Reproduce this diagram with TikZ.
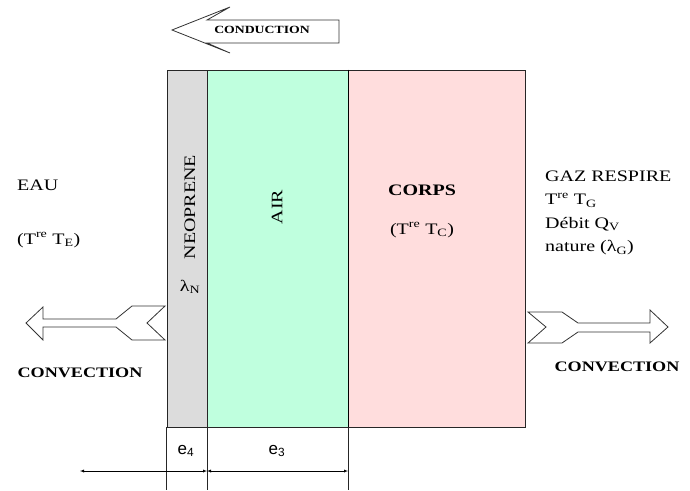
\documentclass[tikz,border=0pt]{standalone}
\usepackage{fontspec}
\setmainfont[FakeStretch=1.25]{Liberation Serif}
\setsansfont{Liberation Sans}
\usepackage{tikz}
\definecolor{neogray}{RGB}{220,220,220}
\definecolor{airgreen}{RGB}{191,255,222}
\definecolor{corpspink}{RGB}{255,221,221}

\begin{document}
\begin{tikzpicture}[x=1pt,y=-1pt,>=latex,
  layer/.style={draw=black!85,line width=0.7pt,minimum height=357pt,inner sep=0pt},
  lbl/.style={font=\fontsize{16}{19}\selectfont,inner sep=0pt},
  conv/.style={font=\fontsize{14.5}{17}\selectfont\bfseries,inner sep=0pt},
  fat/.style={draw=black!80,line width=0.8pt,fill=white,line join=miter}]
\useasboundingbox (0,0) rectangle (690,490);
\node[layer,fill=neogray,minimum width=40pt] (neo) at (187,248.5) {};
\node[layer,fill=airgreen,minimum width=141pt] (air) at (277.5,248.5) {};
\node[layer,fill=corpspink,minimum width=177pt,line width=0.9pt] (corps) at (436.5,248.5) {};
\draw[line width=1.4pt] (air.north east) -- (air.south east);

\draw[black!85] (neo.south west) -- ++(0,63);
\draw[black!85] (neo.south east) -- ++(0,63);
\draw[black!85] (air.south east) -- ++(0,63);

\coordinate (dl) at (80,471);
\coordinate (dm) at (207,471);
\coordinate (dr) at (348,471);
\draw[<->] (dl) -- (dm);
\draw[<->] (dm) -- (dr);
\node[font=\sffamily\fontsize{17}{19}\selectfont] (e4) at (186,451) {e\textsubscript{4}};
\node[font=\sffamily\fontsize{17}{19}\selectfont] (e3) at (277,451) {e\textsubscript{3}};

\draw[fat] (172,30) -- (230,7) -- (207,20) -- (339,20) -- (339,43) -- (207,43) -- (230,53) -- cycle;
\node[font=\fontsize{11}{13}\selectfont\bfseries,inner sep=0pt] (cond) at (262,30) {CONDUCTION};

\draw[fat] (26,323) -- (43,307) -- (43,319) -- (116,319) -- (132,306) -- (165,306) -- (147,323)
  -- (165,340) -- (132,340) -- (116,327) -- (43,327) -- (43,340) -- cycle;
\draw[fat] (668,327) -- (650,310) -- (650,323) -- (578,323) -- (562,312) -- (528,312) -- (546,327)
  -- (528,343) -- (562,343) -- (578,332) -- (650,332) -- (650,343) -- cycle;

\node[lbl,anchor=west] (eau) at (17,185) {EAU};
\node[lbl,anchor=west] (te) at (17,240) {(T\textsuperscript{re} T\textsubscript{E})};
\node[conv] (convl) at (80,373) {CONVECTION};
\node[conv] (convr) at (617,367) {CONVECTION};

\node[lbl,rotate=90] (neoname) at (190,207) {NEOPRENE};
\node[lbl] (lamn) at (190,287) {λ\textsubscript{N}};
\node[lbl,rotate=90] (airname) at (277,207) {AIR};

\node[lbl,font=\fontsize{16}{19}\selectfont\bfseries] (corpsname) at (422,190) {CORPS};
\node[lbl] (tc) at (422,230) {(T\textsuperscript{re} T\textsubscript{C})};

\node[lbl,anchor=west,align=left,font=\fontsize{16}{23.3}\selectfont] (gaz) at (545,213)
  {GAZ RESPIRE\\T\textsuperscript{re} T\textsubscript{G}\\Débit Q\textsubscript{V}\\nature (λ\textsubscript{G})};
\end{tikzpicture}
\end{document}
